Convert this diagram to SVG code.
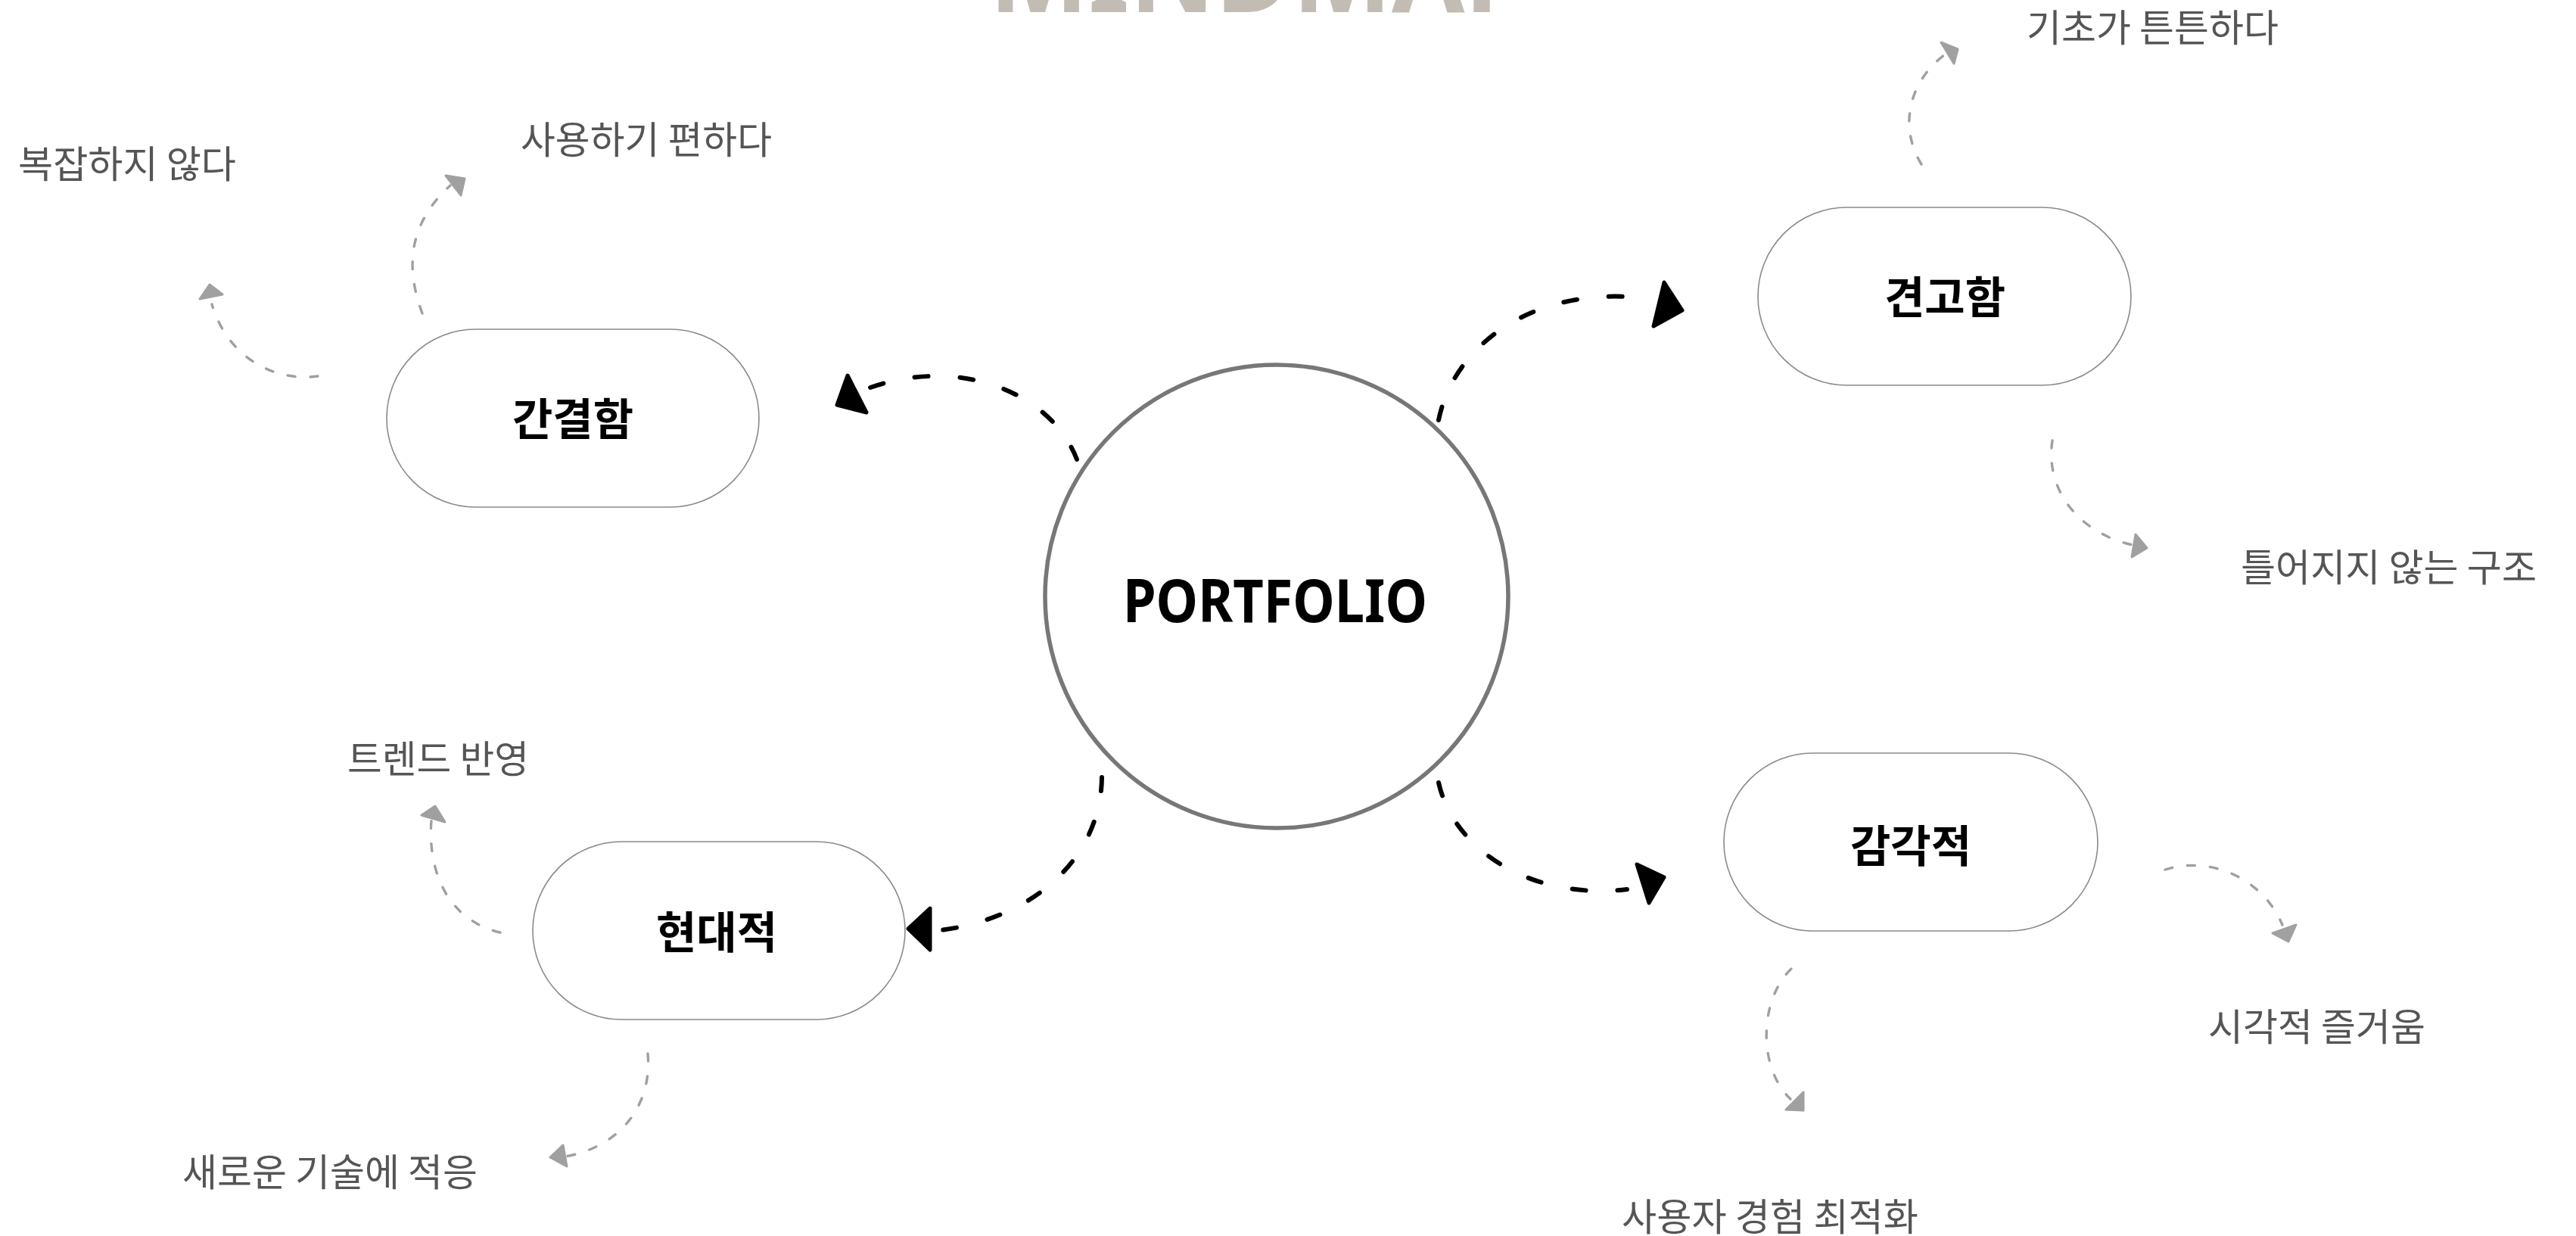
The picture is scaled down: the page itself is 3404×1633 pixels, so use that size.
<svg xmlns="http://www.w3.org/2000/svg" width="3404" height="1633" viewBox="0 0 3404 1633">
<style>
.pill{fill:#fff;stroke:#8a8a8a;stroke-width:1.6}
.center{fill:#fff;stroke:#777;stroke-width:5.5}
.main{font-family:"Noto Sans CJK KR","Noto Sans",sans-serif;font-weight:700;font-size:58px;fill:#000;text-anchor:middle}
.sub{font-family:"Noto Sans CJK KR","Noto Sans",sans-serif;font-weight:400;font-size:50px;fill:#555}
.blk{fill:none;stroke:#000;stroke-width:6;stroke-linecap:round;stroke-dasharray:18 42}
.gry{fill:none;stroke:#a0a0a0;stroke-width:3.4;stroke-linecap:round;stroke-dasharray:10 20}
.bh{fill:#000;stroke:#000;stroke-width:5;stroke-linejoin:round}
.gh{fill:#a0a0a0;stroke:#a0a0a0;stroke-width:3;stroke-linejoin:round}
</style>
<rect width="3404" height="1633" fill="#fff"/>
<text x="1307" y="16" font-family="'Noto Sans','Liberation Sans',sans-serif" font-weight="700" font-size="150" fill="#c3bcb5" textLength="715" lengthAdjust="spacingAndGlyphs">MINDMAP</text>
<g id="connectors">
  <path class="blk" d="M1423,607 C1390,520 1270,470 1150,512"/>
  <polygon class="bh" points="1120,496 1145,545 1106,535"/>
  <path class="blk" d="M1901,555 C1920,460 2020,380 2165,393"/>
  <polygon class="bh" points="2199,373 2223,410 2185,431"/>
  <path class="blk" d="M1901,1034 C1920,1120 2020,1190 2150,1175"/>
  <polygon class="bh" points="2163,1142 2199,1159 2179,1193"/>
  <path class="blk" d="M1456,1027 C1455,1130 1370,1215 1235,1230"/>
  <polygon class="bh" points="1229,1200 1200,1227 1229,1255"/>
  <path class="gry" d="M558,414 C538,360 535,300 595,245"/>
  <polygon class="gh" points="589,232 614,236 609,258"/>
  <path class="gry" d="M420,497 C360,505 300,470 280,402"/>
  <polygon class="gh" points="264,395 294,389 277,376"/>
  <path class="gry" d="M2539,217 C2510,170 2520,110 2570,72"/>
  <polygon class="gh" points="2565,56 2587,65 2582,84"/>
  <path class="gry" d="M2712,582 C2702,650 2750,705 2818,720"/>
  <polygon class="gh" points="2822,706 2837,724 2817,736"/>
  <path class="gry" d="M2861,1149 C2920,1130 2990,1160 3016,1222"/>
  <polygon class="gh" points="3003,1233 3034,1222 3024,1244"/>
  <path class="gry" d="M2367,1280 C2325,1320 2322,1410 2366,1452"/>
  <polygon class="gh" points="2360,1466 2383,1443 2383,1467"/>
  <path class="gry" d="M661,1232 C590,1215 565,1150 570,1084"/>
  <polygon class="gh" points="557,1077 575,1065 588,1086"/>
  <path class="gry" d="M856,1392 C862,1460 820,1515 747,1528"/>
  <polygon class="gh" points="744,1513 749,1541 727,1529"/>
</g>
<g id="portfolio">
  <circle class="center" cx="1687" cy="788" r="306"/>
  <text x="1484" y="822" font-family="'Noto Sans','Liberation Sans',sans-serif" font-weight="700" font-size="78" fill="#000" textLength="402" lengthAdjust="spacingAndGlyphs">PORTFOLIO</text>
</g>
<g id="node-ganggyeol">
  <rect class="pill" x="511" y="435" width="492" height="235" rx="117.5"/>
  <text class="main" x="757" y="575">간결함</text>
</g>
<g id="node-gyeongo">
  <rect class="pill" x="2323" y="274" width="493" height="235" rx="117.5"/>
  <text class="main" x="2570" y="414">견고함</text>
</g>
<g id="node-gamgak">
  <rect class="pill" x="2278" y="995" width="494" height="235" rx="117.5"/>
  <text class="main" x="2525" y="1139">감각적</text>
</g>
<g id="node-hyeondae">
  <rect class="pill" x="704" y="1112" width="492" height="235" rx="117.5"/>
  <text class="main" x="947" y="1253">현대적</text>
</g>
<g id="label-1"><text class="sub" x="24" y="235" textLength="288" lengthAdjust="spacingAndGlyphs">복잡하지 않다</text></g>
<g id="label-2"><text class="sub" x="688" y="203" textLength="332" lengthAdjust="spacingAndGlyphs">사용하기 편하다</text></g>
<g id="label-3"><text class="sub" x="2678" y="55" textLength="333" lengthAdjust="spacingAndGlyphs">기초가 튼튼하다</text></g>
<g id="label-4"><text class="sub" x="2961" y="768" textLength="391" lengthAdjust="spacingAndGlyphs">틀어지지 않는 구조</text></g>
<g id="label-5"><text class="sub" x="2918" y="1375" textLength="287" lengthAdjust="spacingAndGlyphs">시각적 즐거움</text></g>
<g id="label-6"><text class="sub" x="2143" y="1626" textLength="392" lengthAdjust="spacingAndGlyphs">사용자 경험 최적화</text></g>
<g id="label-7"><text class="sub" x="459" y="1021" textLength="240" lengthAdjust="spacingAndGlyphs">트렌드 반영</text></g>
<g id="label-8"><text class="sub" x="241" y="1567" textLength="390" lengthAdjust="spacingAndGlyphs">새로운 기술에 적응</text></g>
</svg>
